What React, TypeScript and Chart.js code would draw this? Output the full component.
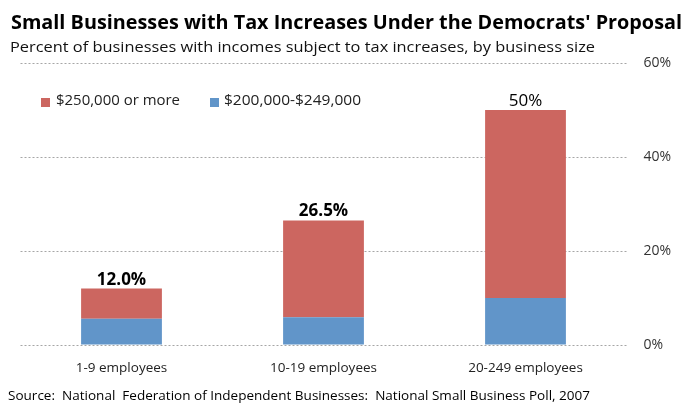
import React, { useEffect, useRef } from "react";
import { Chart, registerables } from "chart.js";
Chart.register(...registerables);

const titleText = "Small Businesses with Tax Increases Under the Democrats' Proposal";
const subtitleText = "Percent of businesses with incomes subject to tax increases, by business size";
const sourceText = "Source:  National  Federation of Independent Businesses:  National Small Business Poll, 2007";
const categories = ["1-9 employees", "10-19 employees", "20-249 employees"];
const series200to249 = [5.6, 5.9, 10.0];
const series250plus = [6.4, 20.6, 40.0];
const totalLabels = ["12.0%", "26.5%", "50%"];
const totalLabelBold = [true, true, false];
const seriesNames = ["$250,000 or more", "$200,000-$249,000"];
const seriesColors = ["#CC6660", "#6195C9"];
const yMax = 60;
const yStep = 20;

const FONT = "'Open Sans', 'DejaVu Sans', sans-serif";

function FitText(props: { text: string; left: number; top: number; width: number; style: React.CSSProperties }) {
  const ref = useRef<HTMLDivElement>(null);
  useEffect(() => {
    const el = ref.current;
    if (!el) return;
    el.style.transform = "none";
    const w = el.getBoundingClientRect().width;
    if (w > 0) el.style.transform = `scaleX(${props.width / w})`;
  }, [props.text, props.width]);
  return (
    <div
      ref={ref}
      style={{
        position: "absolute",
        left: props.left,
        top: props.top,
        whiteSpace: "pre",
        transformOrigin: "left top",
        display: "inline-block",
        lineHeight: 1,
        fontFamily: FONT,
        ...props.style,
      }}
    >
      {props.text}
    </div>
  );
}

const totalsPlugin = {
  id: "totals",
  afterDatasetsDraw(chart: any) {
    const ctx = chart.ctx;
    const meta = chart.getDatasetMeta(1);
    ctx.save();
    ctx.fillStyle = "#000";
    ctx.textAlign = "center";
    ctx.textBaseline = "alphabetic";
    meta.data.forEach((el: any, i: number) => {
      ctx.font = `${totalLabelBold[i] ? "bold " : ""}17px ${FONT}`;
      ctx.fillText(totalLabels[i], el.x, el.y - 4);
    });
    ctx.restore();
  },
};

export default function App() {
  const canvasRef = useRef<HTMLCanvasElement>(null);
  useEffect(() => {
    const canvas = canvasRef.current;
    if (!canvas) return;
    const chart = new Chart(canvas, {
      type: "bar",
      data: {
        labels: categories,
        datasets: [
          { label: seriesNames[1], data: series200to249, backgroundColor: seriesColors[1], stack: "s" },
          { label: seriesNames[0], data: series250plus, backgroundColor: seriesColors[0], stack: "s" },
        ],
      },
      options: {
        animation: false,
        responsive: false,
        maintainAspectRatio: false,
        layout: { padding: { left: 20.5, top: 63, right: 0, bottom: 0 } },
        plugins: { legend: { display: false }, tooltip: { enabled: false }, title: { display: false } },
        datasets: { bar: { categoryPercentage: 1, barPercentage: 0.4 } },
        scales: {
          x: {
            stacked: true,
            grid: { display: false, drawTicks: false },
            border: { display: false },
            ticks: { color: "#222", font: { family: FONT, size: 13.5 }, padding: 15 },
            afterFit: (s: any) => { s.height = 60; },
          },
          y: {
            stacked: true,
            position: "right",
            min: 0,
            max: yMax,
            ticks: {
              stepSize: yStep,
              color: "#333",
              padding: 17,
              font: { family: FONT, size: 14 },
              callback: (v: any) => `${v}%`,
            },
            grid: { color: "#A6A6A6", lineWidth: 1, drawTicks: false, borderDash: [2, 2] } as any,
            border: { display: false, dash: [2, 2] },
            afterFit: (s: any) => { s.width = 63.5; },
          },
        },
      },
      plugins: [totalsPlugin],
    });
    return () => chart.destroy();
  }, []);

  return (
    <div style={{ position: "fixed", left: 0, top: 0, width: 690, height: 405, background: "#fff", overflow: "hidden" }}>
      <canvas ref={canvasRef} width={690} height={405} style={{ position: "absolute", left: 0, top: 0, width: 690, height: 405 }} />
      <FitText text={titleText} left={11} top={12} width={671} style={{ fontSize: 20, fontWeight: 700, color: "#000" }} />
      <FitText text={subtitleText} left={10} top={40} width={585} style={{ fontSize: 14.5, color: "#111" }} />
      <div style={{ position: "absolute", left: 41, top: 98, width: 9, height: 9, background: seriesColors[0] }} />
      <FitText text={seriesNames[0]} left={56} top={93} width={124} style={{ fontSize: 14.5, color: "#222" }} />
      <div style={{ position: "absolute", left: 210, top: 98, width: 9, height: 9, background: seriesColors[1] }} />
      <FitText text={seriesNames[1]} left={224} top={93} width={137} style={{ fontSize: 14.5, color: "#222" }} />
      <FitText text={sourceText} left={8} top={389} width={582} style={{ fontSize: 13, color: "#000" }} />
    </div>
  );
}
